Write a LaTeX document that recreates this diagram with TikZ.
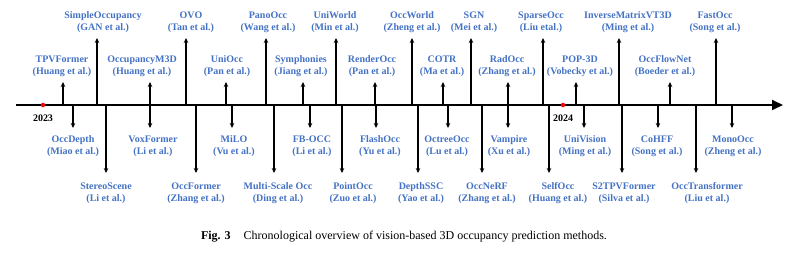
\documentclass[tikz,border=0pt]{standalone}
\usepackage{fontspec}
\setmainfont{Liberation Serif}
\usetikzlibrary{arrows.meta}
\definecolor{methodblue}{RGB}{68,114,196}

\begin{document}
\begin{tikzpicture}[x=1pt,y=-1pt,
  method/.style={font=\fontsize{10}{12}\selectfont\bfseries, text=methodblue, align=center, inner sep=0pt},
  stem/.style={line width=1.3pt, -{Stealth[length=5pt,width=4.5pt]}},
  year/.style={font=\fontsize{10}{12}\selectfont\bfseries, inner sep=0pt},
  yeardot/.style={circle, fill=red, inner sep=0pt, minimum size=4.5pt}]
\useasboundingbox (0,0) rectangle (788,252);

% Time axis
\coordinate (axstart) at (16,105);
\coordinate (axend) at (783,105);
\draw[line width=1.8pt, -{Triangle[length=11pt,width=10pt]}] (axstart) -- (axend);

% Years
\node[yeardot] (dot2023) at (43,105) {};
\node[year] (y2023) at (43,118) {2023};
\node[yeardot] (dot2024) at (563,105) {};
\node[year] (y2024) at (563,118) {2024};

% Above the axis, long stems
\foreach \x/\lx/\name/\auth [count=\i] in {
  97/103/SimpleOccupancy/GAN et al., 186/191/OVO/Tan et al.,
  266/268/PanoOcc/Wang et al., 336/335/UniWorld/Min et al.,
  412/412/OccWorld/Zheng et al., 471/474/SGN/Mei et al.,
  543/541/SparseOcc/Liu etal., 619/628/InverseMatrixVT3D/Ming et al.,
  716/715/FastOcc/Song et al.} {
  \coordinate (ta\i) at (\x,105);
  \coordinate (tt\i) at (\x,38);
  \node[method] (tl\i) at (\lx,22) {\name\\(\auth)};
  \draw[stem] (ta\i) -- (tt\i);
}

% Above the axis, short stems
\foreach \x/\lx/\name/\auth [count=\i] in {
  63/62/TPVFormer/Huang et al., 150/142/OccupancyM3D/Huang et al.,
  226/227/UniOcc/Pan et al., 303/301/Symphonies/Jiang et al.,
  375/372/RenderOcc/Pan et al., 443/442/COTR/Ma et al.,
  508/507/RadOcc/Zhang et al., 576/580/POP-3D/Vobecky et al.,
  670/665/OccFlowNet/Boeder et al.} {
  \coordinate (sa\i) at (\x,105);
  \coordinate (st\i) at (\x,82);
  \node[method] (sl\i) at (\lx,66) {\name\\(\auth)};
  \draw[stem] (sa\i) -- (st\i);
}

% Below the axis, short stems
\foreach \x/\lx/\name/\auth [count=\i] in {
  73/73/OccDepth/Miao et al., 150/153/VoxFormer/Li et al.,
  232/234/MiLO/Vu et al., 310/312/FB-OCC/Li et al.,
  376/380/FlashOcc/Yu et al., 448/447/OctreeOcc/Lu et al.,
  508/509/Vampire/Xu et al., 584/585/UniVision/Ming et al.,
  658/657/CoHFF/Song et al., 732/733/MonoOcc/Zheng et al.} {
  \coordinate (da\i) at (\x,105);
  \coordinate (dt\i) at (\x,128);
  \node[method] (dl\i) at (\lx,146.5) {\name\\(\auth)};
  \draw[stem] (da\i) -- (dt\i);
}

% Below the axis, long stems
\foreach \x/\lx/\name/\auth [count=\i] in {
  106/106/StereoScene/Li et al., 196/196/OccFormer/Zhang et al.,
  274/278/Multi-Scale Occ/Ding et al., 342/353/PointOcc/Zuo et al.,
  418/421/DepthSSC/Yao et al., 482/487/OccNeRF/Zhang et al.,
  549/558/SelfOcc/Huang et al., 622/624/S2TPVFormer/Silva et al.,
  696/707/OccTransformer/Liu et al.} {
  \coordinate (ba\i) at (\x,105);
  \coordinate (bt\i) at (\x,173);
  \node[method] (bl\i) at (\lx,193) {\name\\(\auth)};
  \draw[stem] (ba\i) -- (bt\i);
}

% Caption
\node[font=\fontsize{12}{14}\selectfont] (caption) at (404,237)
  {\textbf{Fig. 3}\hspace{13pt}Chronological overview of vision-based 3D occupancy prediction methods.};

\end{tikzpicture}
\end{document}
